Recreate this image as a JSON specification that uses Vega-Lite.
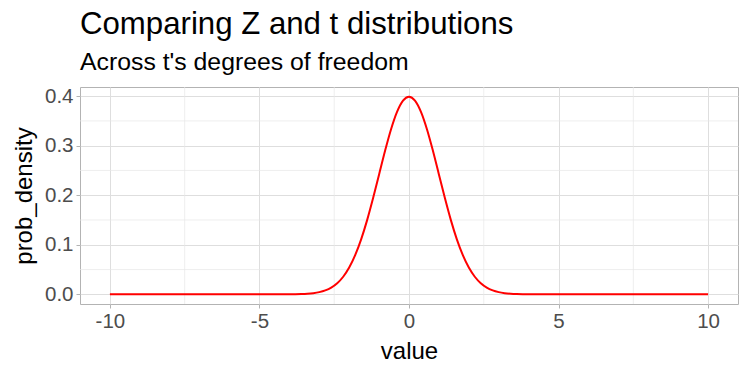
{
  "$schema": "https://vega.github.io/schema/vega-lite/v6.json",
  "width": 658,
  "height": 217,
  "autosize": {"type": "none"},
  "padding": {"left": 80, "top": 87, "right": 12, "bottom": 71},
  "background": "white",
  "title": {
    "text": "Comparing Z and t distributions",
    "subtitle": "Across t's degrees of freedom",
    "anchor": "start",
    "frame": "group",
    "font": "Liberation Sans",
    "fontSize": 31.2,
    "fontWeight": "normal",
    "color": "black",
    "subtitleFont": "Liberation Sans",
    "subtitleFontSize": 24.8,
    "subtitleColor": "black",
    "subtitlePadding": 10,
    "offset": 11
  },
  "config": {
    "view": {"stroke": "#b3b3b3", "strokeWidth": 1},
    "axis": {
      "labelFont": "Liberation Sans",
      "labelFontSize": 20.5,
      "labelColor": "#4d4d4d",
      "titleFont": "Liberation Sans",
      "titleFontSize": 24,
      "titleFontWeight": "normal",
      "titleColor": "black",
      "tickColor": "#b3b3b3",
      "tickSize": 4,
      "tickWidth": 1,
      "domain": false,
      "gridColor": "#dedede",
      "gridWidth": 1
    }
  },
  "datasets": {
    "curve": [
      {"x": -10, "d": 0},
      {"x": -8, "d": 0},
      {"x": -6, "d": 0.000000006},
      {"x": -5, "d": 0.0000015},
      {"x": -4.6, "d": 0.00001},
      {"x": -4.4, "d": 0.000025},
      {"x": -4.2, "d": 0.000059},
      {"x": -4.0, "d": 0.000134},
      {"x": -3.8, "d": 0.000292},
      {"x": -3.6, "d": 0.000612},
      {"x": -3.4, "d": 0.001232},
      {"x": -3.2, "d": 0.002384},
      {"x": -3.0, "d": 0.004432},
      {"x": -2.8, "d": 0.007915},
      {"x": -2.6, "d": 0.013583},
      {"x": -2.4, "d": 0.022395},
      {"x": -2.2, "d": 0.035475},
      {"x": -2.0, "d": 0.053991},
      {"x": -1.8, "d": 0.07895},
      {"x": -1.6, "d": 0.110921},
      {"x": -1.4, "d": 0.149727},
      {"x": -1.2, "d": 0.194186},
      {"x": -1.0, "d": 0.241971},
      {"x": -0.8, "d": 0.289692},
      {"x": -0.6, "d": 0.333225},
      {"x": -0.4, "d": 0.36827},
      {"x": -0.2, "d": 0.391043},
      {"x": 0, "d": 0.398942},
      {"x": 0.2, "d": 0.391043},
      {"x": 0.4, "d": 0.36827},
      {"x": 0.6, "d": 0.333225},
      {"x": 0.8, "d": 0.289692},
      {"x": 1.0, "d": 0.241971},
      {"x": 1.2, "d": 0.194186},
      {"x": 1.4, "d": 0.149727},
      {"x": 1.6, "d": 0.110921},
      {"x": 1.8, "d": 0.07895},
      {"x": 2.0, "d": 0.053991},
      {"x": 2.2, "d": 0.035475},
      {"x": 2.4, "d": 0.022395},
      {"x": 2.6, "d": 0.013583},
      {"x": 2.8, "d": 0.007915},
      {"x": 3.0, "d": 0.004432},
      {"x": 3.2, "d": 0.002384},
      {"x": 3.4, "d": 0.001232},
      {"x": 3.6, "d": 0.000612},
      {"x": 3.8, "d": 0.000292},
      {"x": 4.0, "d": 0.000134},
      {"x": 4.2, "d": 0.000059},
      {"x": 4.4, "d": 0.000025},
      {"x": 4.6, "d": 0.00001},
      {"x": 5, "d": 0.0000015},
      {"x": 6, "d": 0.000000006},
      {"x": 8, "d": 0},
      {"x": 10, "d": 0}
    ],
    "minorX": [{"v": -7.5}, {"v": -2.5}, {"v": 2.5}, {"v": 7.5}],
    "minorY": [{"v": 0.05}, {"v": 0.15}, {"v": 0.25}, {"v": 0.35}]
  },
  "layer": [
    {
      "data": {"name": "minorX"},
      "mark": {"type": "rule", "color": "#e6e6e6", "strokeWidth": 0.7},
      "encoding": {
        "x": {"field": "v", "type": "quantitative"}
      }
    },
    {
      "data": {"name": "minorY"},
      "mark": {"type": "rule", "color": "#e6e6e6", "strokeWidth": 0.7},
      "encoding": {
        "y": {"field": "v", "type": "quantitative"}
      }
    },
    {
      "data": {"name": "curve"},
      "mark": {"type": "line", "color": "#ff0000", "strokeWidth": 2, "interpolate": "monotone"},
      "encoding": {
        "x": {
          "field": "x",
          "type": "quantitative",
          "title": "value",
          "scale": {"domain": [-11, 11], "nice": false, "zero": false},
          "axis": {"values": [-10, -5, 0, 5, 10], "labelExpr": "toString(datum.value)", "labelPadding": 3, "titlePadding": 8}
        },
        "y": {
          "field": "d",
          "type": "quantitative",
          "title": "prob_density",
          "scale": {"domain": [-0.0195, 0.4184], "nice": false, "zero": false},
          "axis": {"values": [0, 0.1, 0.2, 0.3, 0.4], "format": ".1f", "labelPadding": 3, "titlePadding": 8}
        }
      }
    }
  ]
}
